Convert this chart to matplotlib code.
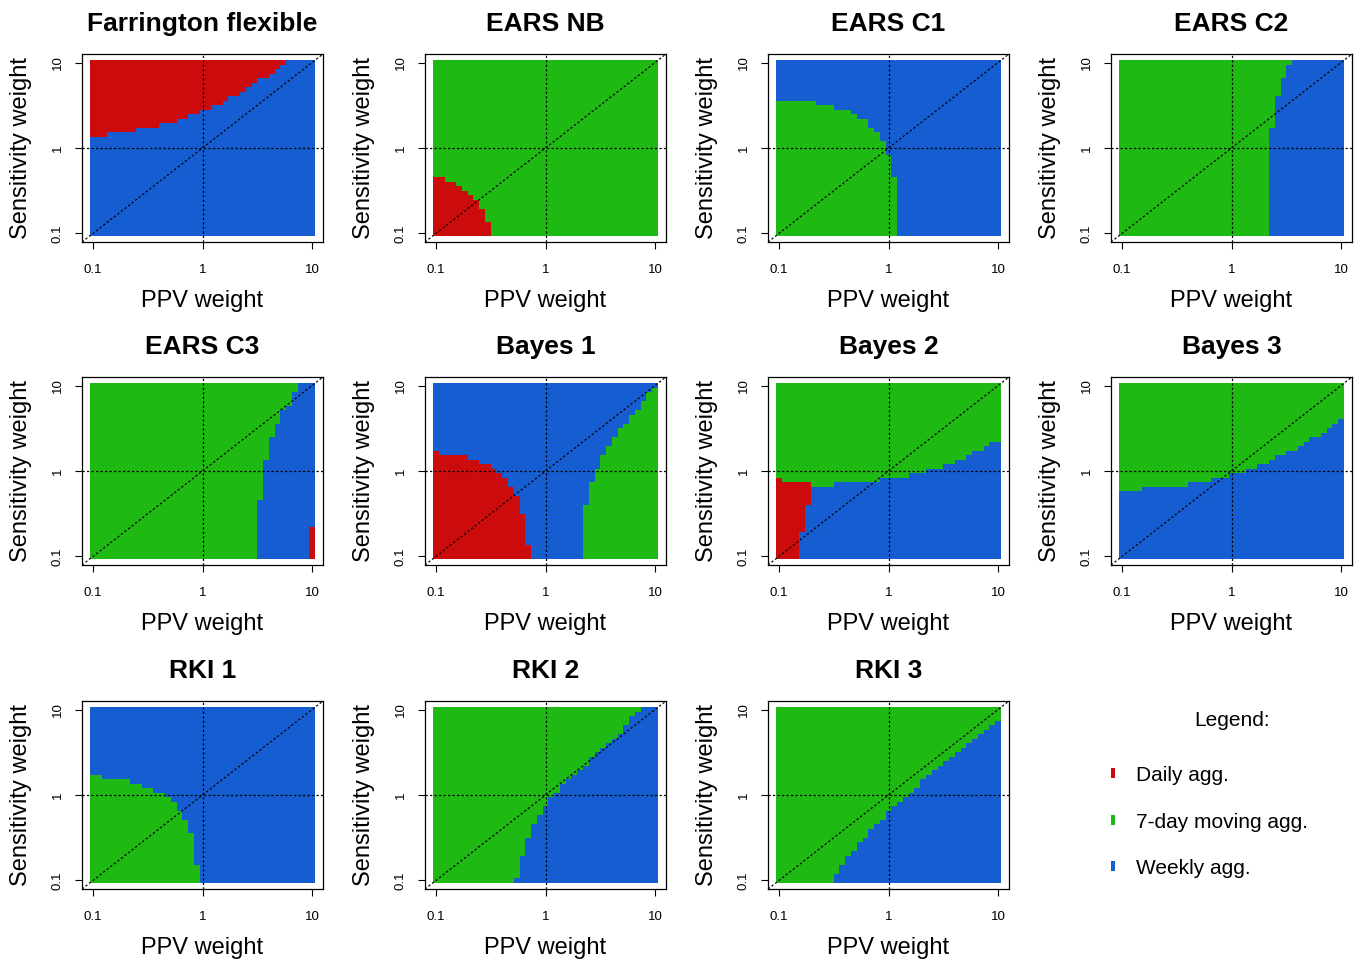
import numpy as np
import matplotlib
matplotlib.use("Agg")
import matplotlib.pyplot as plt
from matplotlib.colors import ListedColormap
from matplotlib.patches import Rectangle

plt.rcParams["font.family"] = ["Liberation Sans", "DejaVu Sans"]

# category codes: 0 = daily, 1 = 7-day moving, 2 = weekly
DAILY, MOVING, WEEKLY = 0, 1, 2
COLORS = ["#CC0C0C", "#1EB912", "#165DD1"]
LEGEND_LABELS = ["Daily agg.", "7-day moving agg.", "Weekly agg."]
TICK_VALUES = [-1, 0, 1]
TICK_LABELS = ["0.1", "1", "10"]
N_GRID = 39   # grid of log10 weights from 0.1 to 10

# Region boundaries (log10 units).
# "below": y < thr  for x >= start,  "above": y > thr,  "right": x > thr for y >= start
FARR_DAILY_START = [-1.1, -0.87, -0.61, -0.40, -0.24, -0.13, -0.03, 0.07, 0.18, 0.23,
                    0.33, 0.39, 0.45, 0.49, 0.60, 0.65, 0.70, 0.76]
FARR_DAILY_THR = [0.12, 0.18, 0.22, 0.28, 0.32, 0.38, 0.43, 0.48, 0.53, 0.58,
                  0.64, 0.69, 0.75, 0.80, 0.85, 0.91, 0.96, 1.10]

NB_DAILY_START = [-1.1, -0.92, -0.82, -0.77, -0.71, -0.66, -0.61, -0.55, -0.50]
NB_DAILY_THR = [-0.34, -0.40, -0.45, -0.51, -0.56, -0.61, -0.72, -0.87, -1.1]

C1_MOVING_START = [-1.1, -0.66, -0.50, -0.35, -0.29, -0.19, -0.14, -0.085, -0.034, 0.015, 0.07]
C1_MOVING_THR = [0.54, 0.49, 0.44, 0.38, 0.33, 0.23, 0.18, 0.07, -0.09, -0.34, -1.1]

C2_WEEKLY_START = [-1.1, 0.22, 0.58, 0.80, 0.95]
C2_WEEKLY_THR = [0.335, 0.387, 0.442, 0.494, 0.546]

C3_WEEKLY_START = [-1.1, -0.35, 0.11, 0.37, 0.54, 0.685, 0.78, 0.90]
C3_WEEKLY_THR = [0.494, 0.546, 0.60, 0.652, 0.704, 0.759, 0.811, 0.866]
C3_DAILY_START = [-1.1, 0.97]
C3_DAILY_THR = [-1.1, -0.67]

B1_DAILY_START = [-1.1, -0.97, -0.71, -0.61, -0.50, -0.45, -0.40, -0.345, -0.29, -0.24,
                  -0.186, -0.134]
B1_DAILY_THR = [0.23, 0.17, 0.11, 0.06, 0.01, -0.04, -0.10, -0.20, -0.30, -0.51, -0.875, -1.1]
B1_MOVING_START = [-1.1, 0.338, 0.393, 0.448, 0.50, 0.552, 0.60, 0.652, 0.707, 0.759,
                   0.811, 0.866, 0.918, 0.973]
B1_MOVING_THR = [-1.1, -0.405, -0.144, 0.012, 0.171, 0.276, 0.381, 0.482, 0.537, 0.646,
                 0.696, 0.798, 0.899, 0.96]

B2_DAILY_START = [-1.1, -0.98, -0.716]
B2_DAILY_THR = [-0.093, -0.14, -1.1]
B2_WEEKLY_START = [-1.1, -0.817, -0.765, -0.716, -0.506, -0.085, 0.174, 0.332, 0.494, 0.60,
                   0.707, 0.759, 0.86, 0.912]
B2_WEEKLY_THR = [-1.1, -0.70, -0.405, -0.19, -0.14, -0.093, -0.035, 0.012, 0.07, 0.113,
                 0.171, 0.226, 0.276, 0.327]

B3_WEEKLY_START = [-1.1, -0.823, -0.40, -0.192, -0.034, 0.122, 0.229, 0.335, 0.387, 0.494,
                   0.595, 0.646, 0.701, 0.805, 0.86, 0.912, 0.963]
B3_WEEKLY_THR = [-0.241, -0.191, -0.14, -0.093, -0.035, 0.012, 0.07, 0.121, 0.171, 0.226,
                 0.276, 0.327, 0.381, 0.432, 0.49, 0.541, 0.588]

R1_MOVING_START = [-1.1, -0.927, -0.659, -0.552, -0.445, -0.348, -0.293, -0.241, -0.186,
                   -0.134, -0.079, -0.027]
R1_MOVING_THR = [0.226, 0.171, 0.121, 0.07, 0.019, -0.035, -0.089, -0.191, -0.30, -0.455,
                 -0.817, -1.1]

R2_WEEKLY_START = [-1.1, -0.293, -0.238, -0.186, -0.131, -0.079, -0.027, 0.027, 0.079, 0.128,
                   0.18, 0.232, 0.287, 0.338, 0.393, 0.445, 0.494, 0.546, 0.598, 0.652,
                   0.704, 0.759, 0.811, 0.866]
R2_WEEKLY_THR = [-1.1, -0.973, -0.716, -0.506, -0.35, -0.249, -0.144, -0.039, 0.012, 0.117,
                 0.167, 0.226, 0.276, 0.331, 0.432, 0.486, 0.537, 0.588, 0.642, 0.693,
                 0.798, 0.899, 0.953, 1.1]

R3_WEEKLY_START = [-1.1, -0.506, -0.451, -0.40, -0.345, -0.293, -0.238, -0.186, -0.137, -0.085,
                   -0.034, 0.021, 0.073, 0.128, 0.18, 0.235, 0.287, 0.341, 0.393, 0.442,
                   0.494, 0.549, 0.60, 0.652, 0.707, 0.759, 0.814, 0.866, 0.921, 0.973]
R3_WEEKLY_THR = [-1.1, -0.922, -0.817, -0.716, -0.658, -0.56, -0.506, -0.405, -0.35, -0.30,
                 -0.191, -0.144, -0.089, -0.039, 0.012, 0.07, 0.167, 0.226, 0.276, 0.331,
                 0.381, 0.432, 0.486, 0.537, 0.588, 0.642, 0.693, 0.75, 0.798, 0.848]

PANELS = [
    ("Farrington flexible", WEEKLY, [(DAILY, "above", FARR_DAILY_START, FARR_DAILY_THR)]),
    ("EARS NB", MOVING, [(DAILY, "below", NB_DAILY_START, NB_DAILY_THR)]),
    ("EARS C1", WEEKLY, [(MOVING, "below", C1_MOVING_START, C1_MOVING_THR)]),
    ("EARS C2", MOVING, [(WEEKLY, "right", C2_WEEKLY_START, C2_WEEKLY_THR)]),
    ("EARS C3", MOVING, [(WEEKLY, "right", C3_WEEKLY_START, C3_WEEKLY_THR),
                         (DAILY, "below", C3_DAILY_START, C3_DAILY_THR)]),
    ("Bayes 1", WEEKLY, [(DAILY, "below", B1_DAILY_START, B1_DAILY_THR),
                         (MOVING, "below", B1_MOVING_START, B1_MOVING_THR)]),
    ("Bayes 2", MOVING, [(DAILY, "below", B2_DAILY_START, B2_DAILY_THR),
                         (WEEKLY, "below", B2_WEEKLY_START, B2_WEEKLY_THR)]),
    ("Bayes 3", MOVING, [(WEEKLY, "below", B3_WEEKLY_START, B3_WEEKLY_THR)]),
    ("RKI 1", WEEKLY, [(MOVING, "below", R1_MOVING_START, R1_MOVING_THR)]),
    ("RKI 2", MOVING, [(WEEKLY, "below", R2_WEEKLY_START, R2_WEEKLY_THR)]),
    ("RKI 3", MOVING, [(WEEKLY, "below", R3_WEEKLY_START, R3_WEEKLY_THR)]),
]

W, H = 1363, 960
centers = np.linspace(-1, 1, N_GRID)
half = 1.0 / (N_GRID - 1)
edges = np.linspace(-1 - half, 1 + half, N_GRID + 1)
X, Y = np.meshgrid(centers, centers)


def staircase(starts, thr, along):
    idx = np.searchsorted(np.asarray(starts), along, side="right") - 1
    idx = np.clip(idx, 0, len(thr) - 1)
    return np.asarray(thr)[idx]


def build_grid(base, regions):
    Z = np.full((N_GRID, N_GRID), base)
    for code, rule, starts, thr in regions:
        if rule == "below":
            mask = Y < staircase(starts, thr, X)
        elif rule == "above":
            mask = Y > staircase(starts, thr, X)
        else:
            mask = X > staircase(starts, thr, Y)
        Z[mask] = code
    return Z


def fx(px):
    return px / W


def fy(py):
    return 1 - py / H


fig = plt.figure(figsize=(W / 100, H / 100), dpi=100)
cmap = ListedColormap(COLORS)

col_left = [82, 425, 768, 1111]
row_top = [54, 377, 701]
box_w, box_h = 241, 188

for k, (title, base, regions) in enumerate(PANELS):
    r, c = divmod(k, 4)
    left, top = col_left[c], row_top[r]
    ax = fig.add_axes([fx(left), fy(top + box_h), box_w / W, box_h / H])
    Z = build_grid(base, regions)
    ax.pcolormesh(edges, edges, Z, cmap=cmap, vmin=-0.5, vmax=2.5,
                  shading="flat", edgecolors="none", linewidth=0)
    dot = dict(color="black", lw=0.9, linestyle=(0, (1.8, 1.8)))
    ax.axhline(0, **dot)
    ax.axvline(0, **dot)
    ax.axline((0, 0), (1, 1), **dot)
    ax.set_xlim(-1.1, 1.1)
    ax.set_ylim(-1.1, 1.1)
    ax.set_xticks(TICK_VALUES, TICK_LABELS)
    ax.set_yticks(TICK_VALUES, TICK_LABELS)
    ax.tick_params(axis="both", direction="out", length=5, width=0.8, labelsize=9.5)
    ax.tick_params(axis="x", pad=10.5)
    ax.tick_params(axis="y", pad=8, labelrotation=90)
    for lab in ax.get_yticklabels():
        lab.set_va("center")
    for s in ax.spines.values():
        s.set_linewidth(0.9)
    cx = left + box_w / 2
    fig.text(fx(cx), fy(top - 23), title, ha="center", va="baseline",
             fontsize=19, fontweight="bold")
    fig.text(fx(cx), fy(top + box_h + 65), "PPV weight", ha="center", va="baseline",
             fontsize=17)
    fig.text(fx(left - 61), fy(top + box_h / 2), "Sensitivity weight", rotation=90,
             ha="center", va="center", fontsize=17)

# legend panel
fig.text(fx(1232), fy(721), "Legend:", ha="center", va="center", fontsize=15)
for i, (label, color) in enumerate(zip(LEGEND_LABELS, COLORS)):
    yc = 774 + i * 46.5
    fig.patches.append(Rectangle((fx(1111), fy(yc + 4)), 4 / W, 10 / H,
                                 transform=fig.transFigure, facecolor=color,
                                 edgecolor="none"))
    fig.text(fx(1136), fy(yc + 1.5), label, ha="left", va="center", fontsize=15)

fig.savefig("out.png", dpi=100)
